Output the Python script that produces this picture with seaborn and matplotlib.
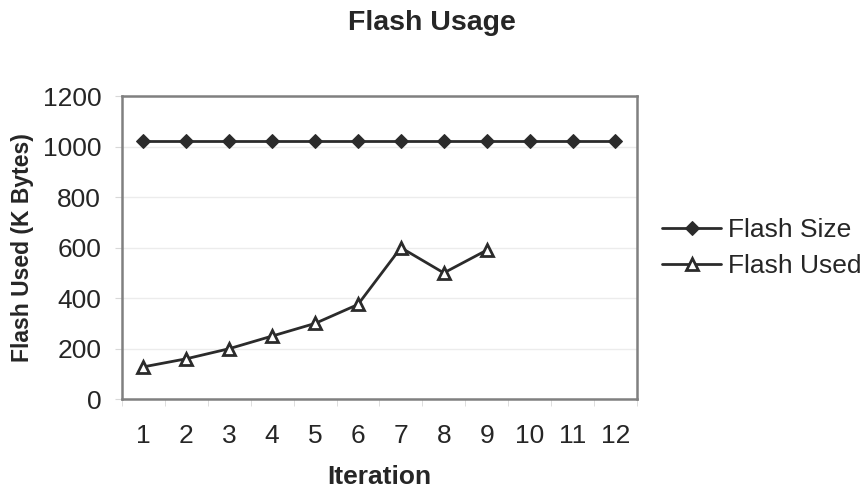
import matplotlib
matplotlib.use("Agg")
import matplotlib.pyplot as plt
import seaborn as sns
import pandas as pd
import numpy as np

iterations = [1, 2, 3, 4, 5, 6, 7, 8, 9, 10, 11, 12]
flash_size = [1024, 1024, 1024, 1024, 1024, 1024, 1024, 1024, 1024, 1024, 1024, 1024]
flash_used_iter = [1, 2, 3, 4, 5, 6, 7, 8, 9]
flash_used = [128, 160, 200, 250, 300, 375, 600, 500, 590]

sns.set_style("white")
plt.rcParams['font.family'] = ['Liberation Sans', 'DejaVu Sans']

df = pd.concat([
    pd.DataFrame({"Iteration": iterations, "Value": flash_size, "Series": "Flash Size"}),
    pd.DataFrame({"Iteration": flash_used_iter, "Value": flash_used, "Series": "Flash Used"}),
])

fig = plt.figure(figsize=(8.61, 4.88), dpi=100)
ax = fig.add_axes([0.1417, 0.182, 0.598, 0.621])

c = "#2b2b2b"
sns.lineplot(data=df, x="Iteration", y="Value", hue="Series", style="Series",
             markers={"Flash Size": "D", "Flash Used": "^"}, dashes=False,
             palette={"Flash Size": c, "Flash Used": c}, linewidth=2.0,
             markersize=9, ax=ax, legend=False)
lines = ax.get_lines()
lines[0].set_markerfacecolor(c); lines[0].set_markeredgecolor(c); lines[0].set_markersize(7.5)
lines[1].set_markerfacecolor("white"); lines[1].set_markeredgecolor(c); lines[1].set_markeredgewidth(2)

ax.set_xlim(0.5, 12.5)
ax.set_ylim(0, 1200)
ax.set_yticks(np.arange(0, 1201, 200))
ax.set_xticks(iterations)
ax.set_xticks(np.arange(0.5, 12.6, 1), minor=True)
ax.tick_params(axis="x", which="major", length=0, labelsize=19, pad=18)
ax.tick_params(axis="x", which="minor", length=5, color="#d8d8d8", direction="out", bottom=True)
ax.tick_params(axis="y", labelsize=19, length=5, color="#d8d8d8", direction="out", left=True, pad=10)
ax.yaxis.grid(True, color="#ececec", linewidth=1)
ax.set_axisbelow(True)
for s in ax.spines.values():
    s.set_color("#808080")
    s.set_linewidth(1.8)

ax.set_xlabel("Iteration", fontsize=19, fontweight="bold", labelpad=12)
ax.set_ylabel("Flash Used (K Bytes)", fontsize=16.5, fontweight="bold", labelpad=6)
fig.suptitle("Flash Usage", fontsize=20.5, fontweight="bold", x=0.502, y=0.98)

fig.legend(handles=[lines[0], lines[1]], labels=["Flash Size", "Flash Used"],
           loc="center left", bbox_to_anchor=(0.769, 0.492), frameon=False,
           fontsize=19, handlelength=2.25, handletextpad=0.25, labelspacing=0.45,
           borderpad=0, borderaxespad=0)

fig.savefig("out.png", dpi=100)
